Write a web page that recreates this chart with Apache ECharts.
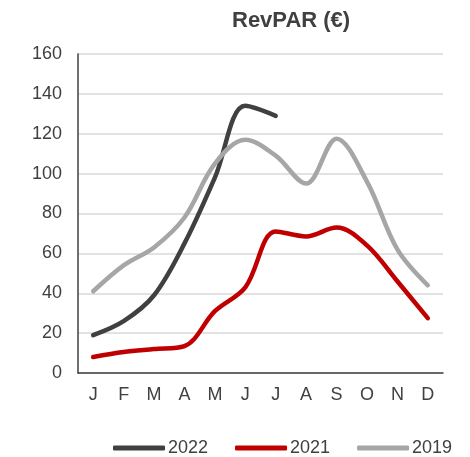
<!DOCTYPE html>
<html>
<head>
<meta charset="utf-8">
<script src="https://cdn.jsdelivr.net/npm/echarts@6/dist/echarts.min.js"></script>
<style>
html,body{margin:0;padding:0;background:#fff;}
#chart{width:470px;height:457px;}
</style>
</head>
<body>
<div id="chart"></div>
<script>
var months = ['J','F','M','A','M','J','J','A','S','O','N','D'];
var s2022 = [19, 26, 39, 65, 98, 134, 129, null, null, null, null, null];
var s2021 = [8, 10.5, 12, 13.5, 31, 43, 71, 68.5, 73, 64, 46, 27.5];
var s2019 = [41, 54, 63, 78, 105, 117, 109, 95, 117.5, 96, 62, 44];
var yTicks = [0, 20, 40, 60, 80, 100, 120, 140, 160];

var chart = echarts.init(document.getElementById('chart'), null, {renderer:'canvas'});
var txt = '#404040';
var font = 'Liberation Sans, Arial, sans-serif';
function line(name, data, color) {
  return {
    name: name, type: 'line', data: data, smooth: 0.35,
    symbol: 'none', showSymbol: false, connectNulls: false,
    lineStyle: {color: color, width: 4.5, cap: 'round', join: 'round'},
    itemStyle: {color: color}
  };
}
chart.setOption({
  animation: false,
  backgroundColor: '#fff',
  textStyle: {fontFamily: font},
  title: {
    text: 'RevPAR (€)', left: 227, top: 5,
    textStyle: {fontSize: 22, fontWeight: 'bold', color: txt, fontFamily: font}
  },
  grid: {left: 78, right: 27, top: 54, bottom: 84, containLabel: false},
  xAxis: {
    type: 'category', data: months, boundaryGap: true,
    axisLine: {lineStyle: {color: txt, width: 1.5}},
    axisTick: {show: false},
    axisLabel: {color: txt, fontSize: 18, margin: 13, fontFamily: font}
  },
  yAxis: {
    type: 'value', min: yTicks[0], max: yTicks[yTicks.length-1], interval: 20,
    axisLine: {show: true, lineStyle: {color: txt, width: 1.5}},
    axisTick: {show: false},
    axisLabel: {color: txt, fontSize: 18, margin: 16, fontFamily: font},
    splitLine: {lineStyle: {color: '#d9d9d9', width: 1.5}}
  },
  legend: {
    data: ['2022','2021','2019'],
    left: 108, top: 434,
    icon: 'roundRect', itemWidth: 52, itemHeight: 5, itemGap: 27,
    textStyle: {color: txt, fontSize: 18, fontFamily: font, padding: [0,0,0,-2]}
  },
  series: [
    line('2022', s2022, '#404040'),
    line('2021', s2021, '#c00000'),
    line('2019', s2019, '#a6a6a6')
  ]
});
</script>
</body>
</html>
